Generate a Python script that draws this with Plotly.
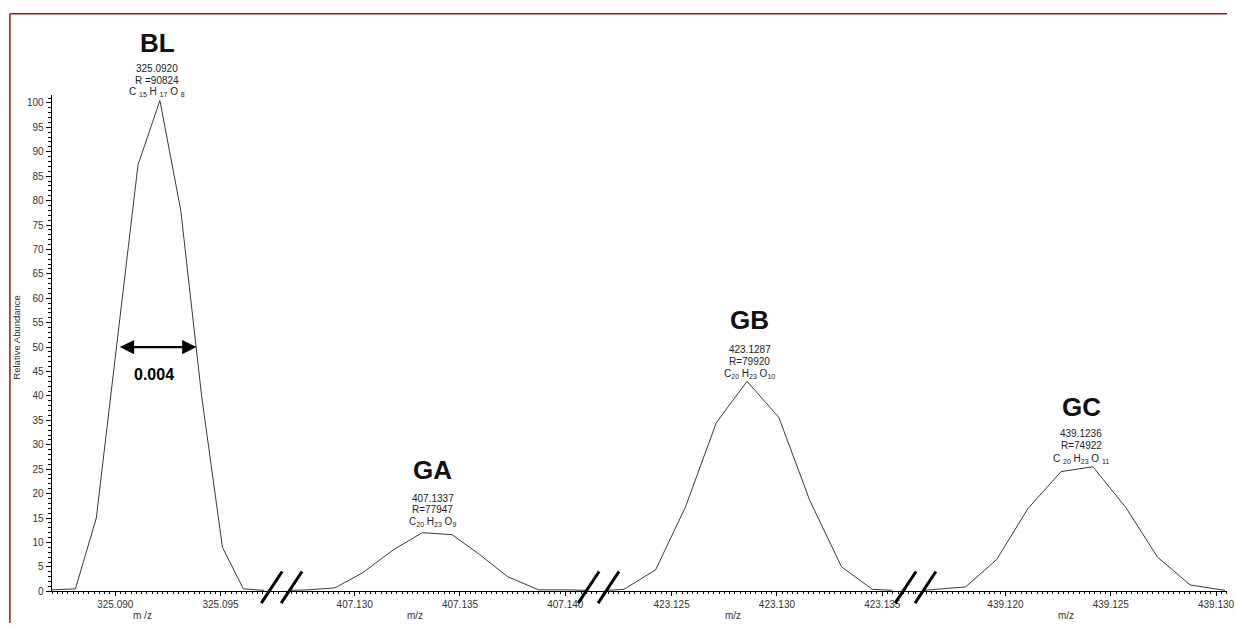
import plotly.graph_objects as go

W, H = 1235, 629
FONT = "Liberation Sans, Arial, sans-serif"

# Peak profiles: m/z and relative abundance for each compound
bl_mz = [325.08698, 325.08811, 325.08910, 325.09009, 325.09108, 325.09212,
         325.09311, 325.09410, 325.09509, 325.09608, 325.09707]
bl_ab = [0.3, 0.5, 15.0, 51.0, 87.3, 100.5, 78.0, 40.0, 9.0, 0.5, 0.2]

ga_mz = [407.12689, 407.12778, 407.12906, 407.13038, 407.13184, 407.13321,
         407.13462, 407.13594, 407.13726, 407.13873, 407.14005, 407.14099]
ga_ab = [0.2, 0.3, 0.7, 3.8, 8.5, 12.0, 11.6, 7.5, 3.0, 0.3, 0.3, 0.2]

gb_mz = [423.12198, 423.12274, 423.12424, 423.12566, 423.12712, 423.12858,
         423.13009, 423.13156, 423.13307, 423.13453, 423.13547]
gb_ab = [0.2, 0.4, 4.4, 17.3, 34.5, 43.0, 35.6, 18.6, 5.0, 0.4, 0.2]

gc_mz = [439.11613, 439.11811, 439.11958, 439.12108, 439.12264, 439.12415,
         439.12571, 439.12722, 439.12877, 439.13042]
gc_ab = [0.2, 0.9, 6.5, 17.0, 24.5, 25.5, 17.2, 7.0, 1.3, 0.2]

# Peak annotations
peak_names = ["BL", "GA", "GB", "GC"]
peak_centroids = [325.0920, 407.1337, 423.1287, 439.1236]
centroid_text = ["325.0920", "407.1337", "423.1287", "439.1236"]
resolution_text = ["R =90824", "R=77947", "R=79920", "R=74922"]
formula_text = [
    "C <sub>15</sub> H <sub>17</sub> O <sub>8</sub>",
    "C<sub>20</sub> H<sub>23</sub> O<sub>9</sub>",
    "C<sub>20</sub> H<sub>23</sub> O<sub>10</sub>",
    "C <sub>20</sub> H<sub>23</sub> O <sub>11</sub>",
]
axis_titles = ["m /z", "m/z", "m/z", "m/z"]

# FWHM of the BL peak
fwhm_value = 0.004
fwhm_center = 325.0920
fwhm_label = "0.004"

series = [(bl_mz, bl_ab), (ga_mz, ga_ab), (gb_mz, gb_ab), (gc_mz, gc_ab)]
axis_names = ["x", "x2", "x3", "x4"]

# broken x-axis: segment boundaries (px) and visible m/z windows
seg_px = [52, 283, 602, 921, W]
x_ranges = [[325.086981, 325.097877],
            [407.126509, 407.141557],
            [423.121509, 423.136557],
            [439.115708, 439.130519]]

fig = go.Figure()
for (mz, ab), xa in zip(series, axis_names):
    fig.add_trace(go.Scatter(x=mz, y=ab, xaxis=xa, yaxis="y", mode="lines",
                             line=dict(color="#3a3a3a", width=1),
                             showlegend=False, hoverinfo="skip"))

tick_font = dict(family=FONT, size=10, color="#333333")
layout = dict(
    width=W, height=H,
    margin=dict(l=0, r=0, t=0, b=0),
    paper_bgcolor="white", plot_bgcolor="white",
    showlegend=False,
)
for i, xa in enumerate(axis_names):
    key = "xaxis" if i == 0 else f"xaxis{i + 1}"
    layout[key] = dict(
        domain=[seg_px[i] / W, seg_px[i + 1] / W],
        range=x_ranges[i], anchor="y",
        showline=True, linecolor="black", linewidth=1,
        ticks="outside", ticklen=4, tickwidth=1, tickcolor="black",
        tick0=0, dtick=0.005, tickformat=".3f", tickfont=tick_font,
        ticklabeloverflow="allow",
        minor=dict(ticks="outside", dtick=0.00025, ticklen=2, tickcolor="black",
                   showgrid=False),
        showgrid=False, zeroline=False, fixedrange=True,
    )
layout["yaxis"] = dict(
    domain=[1 - 597 / H, 1 - 96 / H], range=[0, 101.6], anchor="x",
    showline=True, linecolor="black", linewidth=1,
    ticks="outside", ticklen=5, tickwidth=1, tickcolor="black",
    tick0=0, dtick=5, tickfont=tick_font,
    minor=dict(ticks="outside", dtick=1, ticklen=3, tickcolor="black",
               showgrid=False),
    showgrid=False, zeroline=False, fixedrange=True,
)
fig.update_layout(**layout)

ann = []
# peak labels: name, centroid, resolution, formula
label_rows = [
    (43, 475, 323, 411),   # name
    (69, 503, 353, 438),   # centroid
    (81, 514, 365, 450),   # resolution
    (93, 527, 378, 463),   # formula
]
for i, xa in enumerate(axis_names):
    texts = [f"<b>{peak_names[i]}</b>", centroid_text[i], resolution_text[i], formula_text[i]]
    sizes = [26, 10, 10, 10]
    for row, (txt, sz) in enumerate(zip(texts, sizes)):
        ann.append(dict(x=peak_centroids[i], xref=xa, y=1 - label_rows[row][i] / H,
                        yref="paper", text=txt, showarrow=False,
                        xanchor="center", yanchor="middle",
                        font=dict(family=FONT, size=sz, color="#111111" if row == 0 else "#222222")))

# FWHM double arrow
ann.append(dict(x=fwhm_center + fwhm_value / 2, y=50, xref="x", yref="y",
                ax=fwhm_center - fwhm_value / 2, ay=50, axref="x", ayref="y",
                text="", showarrow=True, arrowhead=2, arrowside="end+start",
                arrowsize=1.2, arrowwidth=2.4, arrowcolor="black",
                standoff=3, startstandoff=3))
ann.append(dict(x=fwhm_center - 0.00015, y=1 - 378 / H, xref="x", yref="paper",
                text=f"<b>{fwhm_label}</b>", showarrow=False,
                xanchor="center", yanchor="middle",
                font=dict(family=FONT, size=16, color="black")))

# axis titles
for i, t in enumerate(axis_titles):
    cx = [143, 418, 738, 1073][i]
    ann.append(dict(x=cx / W, y=1 - 621 / H, xref="paper", yref="paper", text=t,
                    showarrow=False, xanchor="center", yanchor="middle",
                    font=dict(family=FONT, size=10, color="#333333")))
ann.append(dict(x=17 / W, y=1 - 340 / H, xref="paper", yref="paper",
                text="Relative Abundance", textangle=-90, showarrow=False,
                xanchor="center", yanchor="middle",
                font=dict(family=FONT, size=9.5, color="#333333")))
fig.update_layout(annotations=ann)

# frame lines
frame_color = "#8b1a1a"
shapes = [
    dict(type="line", xref="paper", yref="paper", x0=10 / W, x1=1,
         y0=1 - 14 / H, y1=1 - 14 / H, line=dict(color=frame_color, width=1.5)),
    dict(type="line", xref="paper", yref="paper", x0=10 / W, x1=10 / W,
         y0=0, y1=1 - 14 / H, line=dict(color=frame_color, width=1.5)),
]
# axis break marks
for b in seg_px[1:4]:
    for off in (-10, 10):
        c = b + off
        shapes.append(dict(type="line", xref="paper", yref="paper",
                           x0=(c - 10) / W, x1=(c + 11) / W,
                           y0=1 - 609 / H, y1=1 - 577 / H,
                           line=dict(color="black", width=3)))
fig.update_layout(shapes=shapes)

fig.write_html("out.html")
